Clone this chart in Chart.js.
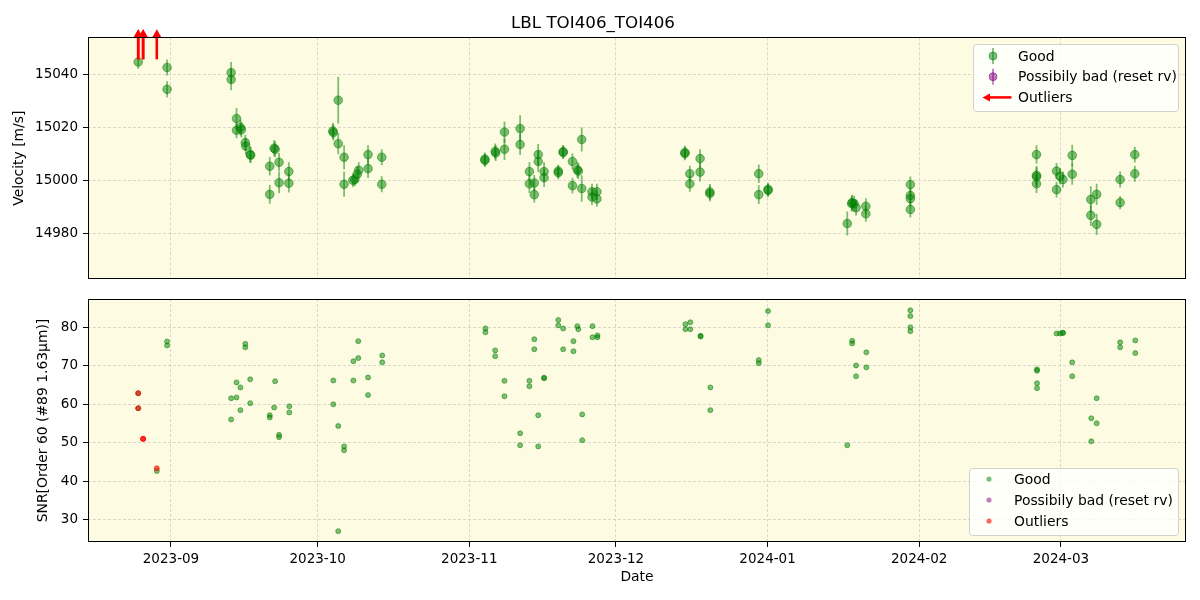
<!DOCTYPE html>
<html>
<head>
<meta charset="utf-8">
<script src="https://cdn.jsdelivr.net/npm/chart.js@4.4.0/dist/chart.umd.min.js"></script>
<style>
  html, body { margin: 0; padding: 0; background: #fff; }
  #wrap { position: relative; width: 1200px; height: 600px; }
  .pane { position: absolute; left: 0; width: 1200px; }
</style>
</head>
<body>
<div id="wrap">
  <div class="pane" style="top:0;height:290px"><canvas id="vel"></canvas></div>
  <div class="pane" style="top:290px;height:310px"><canvas id="snr"></canvas></div>
</div>
<script>
// days counted from 2023-09-01
const tickDays = [0, 30, 61, 91, 122, 153, 182];
const tickLabels = ['2023-09', '2023-10', '2023-11', '2023-12', '2024-01', '2024-02', '2024-03'];
const velTicks = [14980, 15000, 15020, 15040];
const snrTicks = [30, 40, 50, 60, 70, 80];

const velDays = [-6.7, -0.8, -0.8, 12.3, 12.3, 13.4, 13.4, 14.2, 14.4, 15.2, 15.3, 16.2, 16.3, 20.2, 20.2, 21.1, 21.3, 22.1, 22.1, 24.1, 24.1, 33.1, 33.2, 34.2, 34.2, 35.4, 35.4, 37.2, 37.6, 38.1, 38.4, 40.3, 40.3, 43.1, 43.1,
  64.2, 64.2, 66.3, 66.4, 68.2, 68.2, 71.4, 71.4, 73.3, 73.3, 74.3, 74.3, 75.1, 75.1, 76.3, 76.3, 79.2, 79.2, 80.2, 80.2, 82.1, 82.1, 83.1, 83.3, 84.0, 84.0, 86.1, 86.1, 87.1, 87.1,
  105.1, 105.1, 106.1, 106.1, 108.2, 108.2, 110.2, 110.2, 120.2, 120.2, 122.1, 122.1,
  138.3, 139.2, 139.3, 139.7, 140.1, 142.1, 142.1, 151.2, 151.2, 151.2, 151.2,
  177.0, 177.0, 177.0, 177.0, 181.1, 181.1, 181.8, 182.4, 184.3, 184.3, 188.1, 188.1, 189.3, 189.3, 194.1, 194.1, 197.1, 197.1];
const velValues = [15044.6, 15042.5, 15034.3, 15040.6, 15038.0, 15023.3, 15018.9, 15019.9, 15019.1, 15014.2, 15012.9, 15009.7, 15009.5, 15005.3, 14994.7, 15012.1, 15011.7, 15006.8, 14999.1, 15003.3, 14998.9, 15018.6, 15018.0, 15030.2, 15013.8, 15008.7, 14998.5, 15000.0, 15000.3, 15002.3, 15003.8, 15009.7, 15004.4, 15008.7, 14998.5,
  15007.5, 15008.0, 15010.9, 15010.3, 15018.2, 15011.7, 15019.5, 15013.5, 15003.3, 14998.7, 14999.0, 14994.6, 15009.7, 15007.1, 15003.3, 15001.0, 15003.5, 15002.9, 15010.5, 15010.8, 15007.1, 14998.0, 15004.0, 15003.5, 15015.4, 14996.9, 14995.7, 14993.7, 14995.7, 14993.0,
  15010.1, 15010.5, 15002.5, 14998.7, 15008.2, 15003.1, 14995.6, 14995.0, 15002.5, 14994.6, 14996.2, 14996.6,
  14983.7, 14991.2, 14991.6, 14991.2, 14989.7, 14990.2, 14987.4, 14998.4, 14994.3, 14993.1, 14989.0,
  15009.7, 15001.9, 15001.3, 14998.7, 15003.5, 14996.5, 15001.5, 15000.3, 15009.4, 15002.3, 14992.8, 14986.8, 14994.7, 14983.4, 15000.3, 14991.6, 15009.7, 15002.5];
const velErrors = [2.5, 3, 3, 4, 4, 4, 3, 3, 3, 3, 3, 3, 3, 3.5, 3.5, 3, 3, 3.5, 4, 3.5, 3.5, 3, 3, 8.8, 4, 4.5, 4.7, 2.5, 2.5, 3, 3, 3.5, 3.5, 3, 3,
  2.5, 2.5, 3, 3, 4, 4, 5, 4, 3.5, 3.5, 3, 3, 4, 4, 3.5, 3.5, 2.5, 2.5, 2.5, 2.5, 3, 3, 3, 3, 4.5, 5, 3, 3, 3, 3,
  2.5, 2.5, 3, 3, 3.5, 3.5, 3, 3, 3.5, 3.5, 2.5, 2.5,
  4.5, 3, 3, 3, 3, 3, 3, 3, 3, 3, 3,
  3.5, 3.5, 3.5, 3.5, 3, 3, 3, 3, 4, 4, 5, 4, 4, 4, 3, 2.5, 3, 3];

const snrDays = [-6.7, -6.7, -2.9, -0.8, -0.8, 12.3, 12.3, 13.4, 13.4, 14.2, 14.2, 15.2, 15.2, 16.2, 16.2, 20.2, 20.2, 21.3, 21.1, 22.1, 22.1, 24.2, 24.2, 33.2, 33.2, 34.2, 34.2, 35.4, 35.4, 37.3, 37.3, 38.3, 38.3, 40.3, 40.3, 43.2, 43.2,
  64.3, 64.3, 66.3, 66.3, 68.2, 68.2, 71.4, 71.4, 73.3, 73.3, 74.3, 74.3, 75.1, 75.1, 76.3, 76.3, 79.2, 79.2, 80.2, 80.2, 82.3, 82.3, 83.1, 83.3, 84.1, 84.1, 86.2, 86.2, 87.2, 87.2,
  105.2, 105.2, 106.2, 106.2, 108.3, 108.3, 110.3, 110.3, 120.2, 120.2, 122.1, 122.1,
  138.3, 139.3, 139.3, 140.1, 140.1, 142.2, 142.2, 151.2, 151.2, 151.2, 151.2,
  177.1, 177.1, 177.1, 177.1, 181.1, 181.8, 182.4, 182.4, 184.3, 184.3, 188.2, 188.2, 189.3, 189.3, 194.1, 194.1, 197.2, 197.2];
const snrValues = [62.9, 59.0, 42.7, 76.3, 75.3, 56.1, 61.6, 61.8, 65.7, 64.4, 58.5, 75.7, 74.8, 66.5, 60.3, 57.2, 56.6, 66.0, 59.2, 52.1, 51.5, 59.5, 57.9, 66.2, 60.0, 54.4, 27.1, 49.1, 48.1, 71.2, 66.2, 76.4, 72.0, 67.0, 62.4, 72.7, 70.9,
  79.7, 78.7, 74.0, 72.5, 66.1, 62.1, 52.5, 49.4, 66.1, 64.7, 76.9, 74.3, 57.2, 49.1, 66.9, 66.8, 81.9, 80.5, 79.7, 74.3, 76.4, 73.8, 80.3, 79.5, 57.4, 50.7, 80.3, 77.4, 77.9, 77.4,
  80.8, 79.5, 81.3, 79.5, 77.8, 77.6, 64.4, 58.5, 71.5, 70.7, 84.2, 80.5,
  49.4, 76.5, 75.8, 70.1, 67.3, 73.5, 69.6, 84.4, 82.9, 80.0, 79.0,
  69.1, 68.7, 65.5, 64.2, 78.4, 78.4, 78.6, 78.5, 70.9, 67.3, 56.4, 50.4, 61.6, 55.1, 76.1, 74.8, 76.6, 73.3];

const outlierDays = [-6.7, -6.7, -5.7, -5.7, -2.9];
const outlierSnr = [62.9, 59.0, 51.1, 51.0, 43.4];

const GREEN = 'rgba(0,128,0,0.5)';
const PURPLE = 'rgba(128,0,128,0.5)';
const RED = 'rgba(255,0,0,0.6)';
const FONT = 'DejaVu Sans';
const xMin = -16.97, xMax = 207.57;

Chart.defaults.color = '#000';
Chart.defaults.font.family = FONT;
Chart.defaults.font.size = 13.5;

const toPoints = (xs, ys) => xs.map((x, i) => ({ x, y: ys[i] }));

// axes background and black frame
const frame = {
  id: 'frame',
  beforeDraw(chart) {
    const { ctx, chartArea: a } = chart;
    ctx.save();
    ctx.fillStyle = '#fdfce2';
    ctx.fillRect(a.left, a.top, a.width, a.height);
    ctx.restore();
  },
  afterDraw(chart) {
    const { ctx, chartArea: a } = chart;
    ctx.save();
    ctx.strokeStyle = '#000';
    ctx.lineWidth = 1;
    ctx.strokeRect(Math.round(a.left) + 0.5, Math.round(a.top) + 0.5, Math.round(a.width) - 1, Math.round(a.height) - 1);
    ctx.restore();
  }
};

const errorBars = {
  id: 'errorBars',
  beforeDatasetsDraw(chart) {
    const { ctx, scales: { x, y }, chartArea: a } = chart;
    ctx.save();
    ctx.beginPath();
    ctx.rect(a.left, a.top, a.width, a.height);
    ctx.clip();
    ctx.strokeStyle = GREEN;
    ctx.lineWidth = 1.8;
    velDays.forEach((d, i) => {
      const px = x.getPixelForValue(d);
      ctx.beginPath();
      ctx.moveTo(px, y.getPixelForValue(velValues[i] - velErrors[i]));
      ctx.lineTo(px, y.getPixelForValue(velValues[i] + velErrors[i]));
      ctx.stroke();
    });
    ctx.restore();
  }
};

function upArrow(ctx, px, yTail, yTip) {
  ctx.beginPath();
  ctx.moveTo(px, yTail);
  ctx.lineTo(px, yTip + 7);
  ctx.stroke();
  ctx.beginPath();
  ctx.moveTo(px, yTip);
  ctx.lineTo(px - 4.5, yTip + 8);
  ctx.lineTo(px + 4.5, yTip + 8);
  ctx.closePath();
  ctx.fill();
}

const outlierArrows = {
  id: 'outlierArrows',
  afterDatasetsDraw(chart) {
    const { ctx, scales: { x }, chartArea: a } = chart;
    ctx.save();
    ctx.strokeStyle = 'red';
    ctx.fillStyle = 'red';
    ctx.lineWidth = 2.6;
    outlierDays.forEach(d => upArrow(ctx, x.getPixelForValue(d), a.top + 22, a.top - 8));
    ctx.restore();
  }
};

const boxLegend = {
  id: 'boxLegend',
  afterDraw(chart, args, o) {
    const ctx = chart.ctx;
    ctx.save();
    ctx.beginPath();
    ctx.roundRect(o.left + 0.5, o.top + 0.5, o.width, o.height, 3);
    ctx.fillStyle = 'rgba(255,255,255,0.8)';
    ctx.fill();
    ctx.strokeStyle = 'rgba(204,204,204,0.9)';
    ctx.lineWidth = 1;
    ctx.stroke();
    ctx.font = '13.9px ' + FONT;
    ctx.textBaseline = 'middle';
    chart.data.datasets.forEach((ds, i) => {
      const y = o.top + o.first + i * o.step;
      const sx = o.symbolX;
      ctx.fillStyle = ds.backgroundColor;
      ctx.strokeStyle = ds.backgroundColor;
      if (ds.symbol === 'errorbar') {
        ctx.lineWidth = 1.8;
        ctx.beginPath(); ctx.moveTo(sx, y - 8); ctx.lineTo(sx, y + 8); ctx.stroke();
        ctx.beginPath(); ctx.arc(sx, y, 4, 0, Math.PI * 2); ctx.fill(); ctx.lineWidth = 1; ctx.stroke();
      } else if (ds.symbol === 'dot') {
        ctx.beginPath(); ctx.arc(sx, y, 2.6, 0, Math.PI * 2); ctx.fill();
      } else if (ds.symbol === 'arrow') {
        ctx.fillStyle = 'red'; ctx.strokeStyle = 'red'; ctx.lineWidth = 2.5;
        ctx.beginPath(); ctx.moveTo(sx + 18.5, y); ctx.lineTo(sx - 4, y); ctx.stroke();
        ctx.beginPath(); ctx.moveTo(sx - 10.5, y); ctx.lineTo(sx - 3, y - 4); ctx.lineTo(sx - 3, y + 4); ctx.closePath(); ctx.fill();
      }
      ctx.fillStyle = '#000';
      ctx.fillText(ds.label, o.textX, y + 1);
    });
    ctx.restore();
  }
};

function xScale(showLabels) {
  return {
    type: 'linear',
    min: xMin,
    max: xMax,
    afterBuildTicks: s => { s.ticks = tickDays.map(v => ({ value: v })); },
    afterFit: s => { s.height = showLabels ? 58 : 0; s.paddingLeft = 0; s.paddingRight = 0; },
    border: { display: false, dash: [3, 2] },
    grid: { color: 'rgba(176,176,176,0.6)', lineWidth: 0.8, drawTicks: showLabels, tickLength: 5, tickColor: '#000', tickWidth: 1, tickBorderDash: [] },
    ticks: { display: showLabels, padding: 4, maxRotation: 0, autoSkip: false, callback: (v, i) => tickLabels[i] },
    title: { display: showLabels, text: 'Date', font: { size: 13.9 }, padding: { top: 4, bottom: 14.5 } }
  };
}

function yScale(min, max, ticks, label, titlePad) {
  return {
    type: 'linear',
    min, max,
    afterBuildTicks: s => { s.ticks = ticks.map(v => ({ value: v })); },
    // fixed width and no label overhang, so both panels line up
    afterFit: s => { s.width = 88; s.paddingTop = 0; s.paddingBottom = 0; },
    border: { display: false, dash: [3, 2] },
    grid: { color: 'rgba(176,176,176,0.6)', lineWidth: 0.8, tickLength: 5, tickColor: '#000', tickWidth: 1, tickBorderDash: [] },
    ticks: { padding: 5, callback: v => String(v) },
    title: { display: true, text: label, font: { size: 13.9 }, padding: { top: titlePad, bottom: 0 } }
  };
}

new Chart(document.getElementById('vel'), {
  type: 'scatter',
  data: {
    datasets: [
      { label: 'Good', symbol: 'errorbar', data: toPoints(velDays, velValues), backgroundColor: GREEN, borderColor: GREEN, borderWidth: 1, pointRadius: 4.3 },
      { label: 'Possibily bad (reset rv)', symbol: 'errorbar', data: [], backgroundColor: PURPLE, borderColor: PURPLE },
      { label: 'Outliers', symbol: 'arrow', data: [], backgroundColor: RED, borderColor: RED }
    ]
  },
  options: {
    responsive: true,
    maintainAspectRatio: false,
    animation: false,
    layout: { padding: { left: 0, right: 14, top: 0, bottom: 11 } },
    plugins: {
      legend: { display: false },
      tooltip: { enabled: false },
      title: { display: true, text: 'LBL TOI406_TOI406', font: { size: 16.7, weight: 'normal' }, padding: { top: 13.5, bottom: 3.8 } },
      boxLegend: { left: 973, top: 44, width: 205, height: 67, first: 12, step: 20.7, symbolX: 993, textX: 1018 }
    },
    scales: {
      x: xScale(false),
      y: yScale(14962.8, 15053.9, velTicks, 'Velocity [m/s]', 11.5)
    }
  },
  plugins: [frame, errorBars, outlierArrows, boxLegend]
});

new Chart(document.getElementById('snr'), {
  type: 'scatter',
  data: {
    datasets: [
      { label: 'Good', symbol: 'dot', order: 2, data: toPoints(snrDays, snrValues), backgroundColor: GREEN, borderColor: GREEN, borderWidth: 1, pointRadius: 2.5 },
      { label: 'Possibily bad (reset rv)', symbol: 'dot', order: 1, data: [], backgroundColor: PURPLE, borderColor: PURPLE },
      { label: 'Outliers', symbol: 'dot', order: 0, data: toPoints(outlierDays, outlierSnr), backgroundColor: RED, borderColor: RED, borderWidth: 1, pointRadius: 2.5 }
    ]
  },
  options: {
    responsive: true,
    maintainAspectRatio: false,
    animation: false,
    layout: { padding: { left: 0, right: 14, top: 9, bottom: 0 } },
    plugins: {
      legend: { display: false },
      tooltip: { enabled: false },
      boxLegend: { left: 969, top: 178, width: 209, height: 67, first: 11, step: 21, symbolX: 989, textX: 1014 }
    },
    scales: {
      x: xScale(true),
      y: yScale(24.29, 87.34, snrTicks, 'SNR[Order 60 (#89 1.63μm)]', 35.5)
    }
  },
  plugins: [frame, boxLegend]
});
</script>
</body>
</html>
